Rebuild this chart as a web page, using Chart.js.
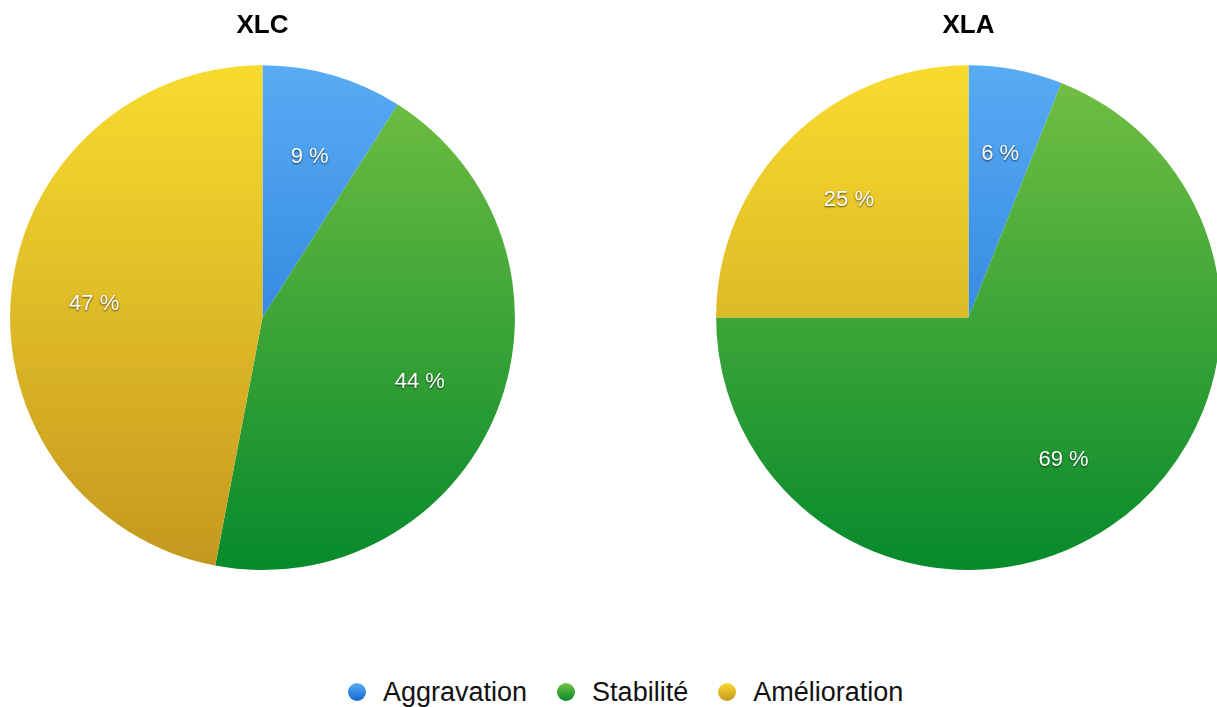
<!DOCTYPE html>
<html>
<head>
<meta charset="utf-8">
<script src="https://cdn.jsdelivr.net/npm/chart.js@4.4.0/dist/chart.umd.min.js"></script>
<style>
    body { margin: 0; width: 1217px; height: 707px; overflow: hidden; background: #fff; position: relative; }
    .pie { position: absolute; top: 0; width: 525px; height: 570px; }
    #legend {
        position: absolute; left: 348px; top: 676px; height: 32px;
        display: flex; align-items: center;
        font-family: "Liberation Sans", Arial, sans-serif; font-size: 27px; color: #111;
    }
    #legend .item { display: flex; align-items: center; margin-right: 30px; }
    #legend .dot { width: 18px; height: 18px; border-radius: 50%; margin-right: 17px; }
</style>
</head>
<body>
<div class="pie" style="left:0"><canvas id="xlc"></canvas></div>
<div class="pie" style="left:706px"><canvas id="xla"></canvas></div>
<div id="legend"></div>

<script>
const categories = ["Aggravation", "Stabilité", "Amélioration"];
const xlcValues = [9, 44, 47];
const xlaValues = [6, 69, 25];
const chartTitles = ["XLC", "XLA"];

// light top -> dark bottom for each slice colour
const gradientStops = [
    ["#58acf4", "#1669cf"],
    ["#74c043", "#078a2c"],
    ["#f9db2f", "#c3981f"],
];

function sliceFill(context) {
    const area = context.chart.chartArea;
    const stops = gradientStops[context.dataIndex];
    if (!area) return stops[0];
    const g = context.chart.ctx.createLinearGradient(0, area.top, 0, area.bottom);
    g.addColorStop(0, stops[0]);
    g.addColorStop(1, stops[1]);
    return g;
}

// percent labels inside each slice
const sliceLabels = {
    id: "sliceLabels",
    afterDatasetsDraw(chart) {
        const ctx = chart.ctx;
        const values = chart.data.datasets[0].data;
        ctx.save();
        ctx.font = "22px 'Liberation Sans', Arial, sans-serif";
        ctx.textAlign = "center";
        ctx.textBaseline = "middle";
        ctx.fillStyle = "#fff";
        ctx.shadowColor = "rgba(0,0,0,0.7)";
        ctx.shadowOffsetX = 0;
        ctx.shadowOffsetY = 1;
        ctx.shadowBlur = 2;
        chart.getDatasetMeta(0).data.forEach((arc, i) => {
            const mid = (arc.startAngle + arc.endAngle) / 2;
            const r = arc.outerRadius * 0.67;
            ctx.fillText(values[i] + " %", arc.x + Math.cos(mid) * r, arc.y + Math.sin(mid) * r + 2);
        });
        ctx.restore();
    },
};

function createPie(canvasId, title, values) {
    new Chart(document.getElementById(canvasId), {
        type: "pie",
        data: {
            labels: categories,
            datasets: [{ data: values, backgroundColor: sliceFill, borderWidth: 0 }],
        },
        options: {
            responsive: true,
            maintainAspectRatio: false,
            animation: false,
            layout: { padding: 0 },
            plugins: {
                legend: { display: false },
                tooltip: { enabled: false },
                title: {
                    display: true,
                    text: title,
                    color: "#000",
                    font: { family: "'Liberation Sans', Arial, sans-serif", size: 26, weight: "bold" },
                    padding: { top: 10, bottom: 24 },
                },
            },
        },
        plugins: [sliceLabels],
    });
}

createPie("xlc", chartTitles[0], xlcValues);
createPie("xla", chartTitles[1], xlaValues);

// shared legend below both pies
const legend = document.getElementById("legend");
categories.forEach((name, i) => {
    const item = document.createElement("div");
    item.className = "item";
    const dot = document.createElement("span");
    dot.className = "dot";
    dot.style.background = `linear-gradient(${gradientStops[i][0]}, ${gradientStops[i][1]})`;
    const label = document.createElement("span");
    label.textContent = name;
    item.appendChild(dot);
    item.appendChild(label);
    legend.appendChild(item);
});
</script>
</body>
</html>
